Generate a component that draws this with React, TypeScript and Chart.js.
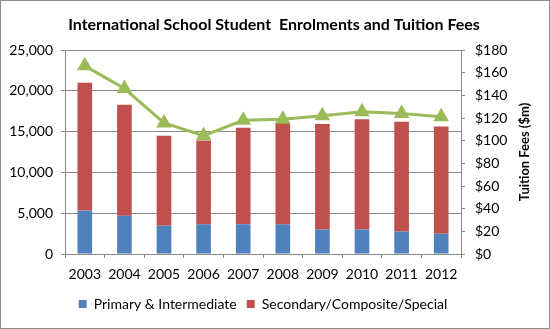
import React, { useEffect, useRef } from "react";
import { Chart, registerables } from "chart.js";

Chart.register(...registerables);

const years = ["2003", "2004", "2005", "2006", "2007", "2008", "2009", "2010", "2011", "2012"];
const primaryIntermediate = [5320, 4700, 3460, 3630, 3630, 3630, 3000, 3000, 2760, 2470];
const secondaryComposite = [15680, 13580, 11020, 10270, 11840, 12420, 12920, 13500, 13450, 13160];
const tuitionFees = [166, 146, 115.6, 104.5, 118, 119, 122, 125.5, 124, 121];

const chartTitle = "International School Student  Enrolments and Tuition Fees";
const rightAxisTitle = "Tuition Fees ($m)";

const FONT = "Lato";

const extrasPlugin = {
  id: "extras",
  afterDraw(chart: any) {
    const ctx = chart.ctx;
    const area = chart.chartArea;
    ctx.save();
    ctx.font = `bold 16px ${FONT}`;
    ctx.fillStyle = "#000";
    ctx.textAlign = "center";
    ctx.textBaseline = "middle";
    ctx.fillText(chartTitle, 274, 25);
    ctx.restore();
    ctx.save();
    ctx.translate(525, (area.top + area.bottom) / 2);
    ctx.rotate(-Math.PI / 2);
    ctx.font = `bold 13px ${FONT}`;
    ctx.fillStyle = "#000";
    ctx.textAlign = "center";
    ctx.textBaseline = "middle";
    ctx.fillText(rightAxisTitle, 0, 0);
    ctx.restore();
    ctx.save();
    ctx.strokeStyle = "#8c8c8c";
    ctx.lineWidth = 1;
    ctx.strokeRect(0.5, 0.5, chart.width - 1, chart.height - 1);
    ctx.restore();
  },
};

export default function App() {
  const ref = useRef<HTMLCanvasElement>(null);
  useEffect(() => {
    if (!ref.current) return;
    const chart = new Chart(ref.current, {
      type: "bar",
      data: {
        labels: years,
        datasets: [
          {
            type: "line",
            label: "Tuition Fees",
            data: tuitionFees,
            yAxisID: "y1",
            borderColor: "#9BBB59",
            backgroundColor: "#9BBB59",
            borderWidth: 3,
            pointStyle: "triangle",
            pointRadius: 6,
            pointBackgroundColor: "#9BBB59",
            pointBorderColor: "#9BBB59",
            tension: 0,
            order: 0,
          } as any,
          {
            label: "Primary & Intermediate",
            data: primaryIntermediate,
            backgroundColor: "#4F81BD",
            borderWidth: 0,
            yAxisID: "y",
            order: 1,
            barPercentage: 0.37,
            categoryPercentage: 1,
          },
          {
            label: "Secondary/Composite/Special",
            data: secondaryComposite,
            backgroundColor: "#C0504D",
            borderWidth: 0,
            yAxisID: "y",
            order: 1,
            barPercentage: 0.37,
            categoryPercentage: 1,
          },
        ],
      },
      options: {
        responsive: false,
        animation: false,
        layout: { padding: { left: 0, right: 24, top: 50, bottom: 8 } },
        plugins: {
          title: { display: false },
          legend: {
            position: "bottom",
            labels: {
              font: { family: FONT, size: 14 },
              color: "#000",
              boxWidth: 8,
              boxHeight: 8,
              padding: 10,
              filter: (item: any) => item.datasetIndex !== 0,
            },
          },
          tooltip: { enabled: false },
        },
        scales: {
          x: {
            stacked: true,
            grid: { display: true, drawOnChartArea: false, drawTicks: true, tickLength: 4, color: "#888" },
            border: { color: "#888" },
            ticks: { font: { family: FONT, size: 14 }, color: "#000", padding: 8, maxRotation: 0 },
            afterFit: (s: any) => { s.height = 33; },
          },
          y: {
            stacked: true,
            position: "left",
            min: 0,
            max: 25000,
            ticks: {
              stepSize: 5000,
              font: { family: FONT, size: 14 },
              color: "#000",
              padding: 8,
              callback: (v: any) => Number(v).toLocaleString("en-US"),
            },
            grid: { color: "#888", tickLength: 4 },
            border: { color: "#888" },
            afterFit: (s: any) => { s.width = 65; },
          },
          y1: {
            stacked: false,
            position: "right",
            min: 0,
            max: 180,
            ticks: {
              stepSize: 20,
              font: { family: FONT, size: 14 },
              color: "#000",
              padding: 10,
              callback: (v: any) => "$" + v,
            },
            grid: { drawOnChartArea: false, color: "#888", tickLength: 4 },
            border: { color: "#888" },
            afterFit: (s: any) => { s.width = 65; },
          },
        },
      },
      plugins: [extrasPlugin],
    } as any);
    return () => chart.destroy();
  }, []);
  return (
    <div style={{ position: "fixed", left: 0, top: 0, width: 550, height: 329, background: "#fff" }}>
      <canvas ref={ref} width={550} height={329} style={{ display: "block" }} />
    </div>
  );
}
